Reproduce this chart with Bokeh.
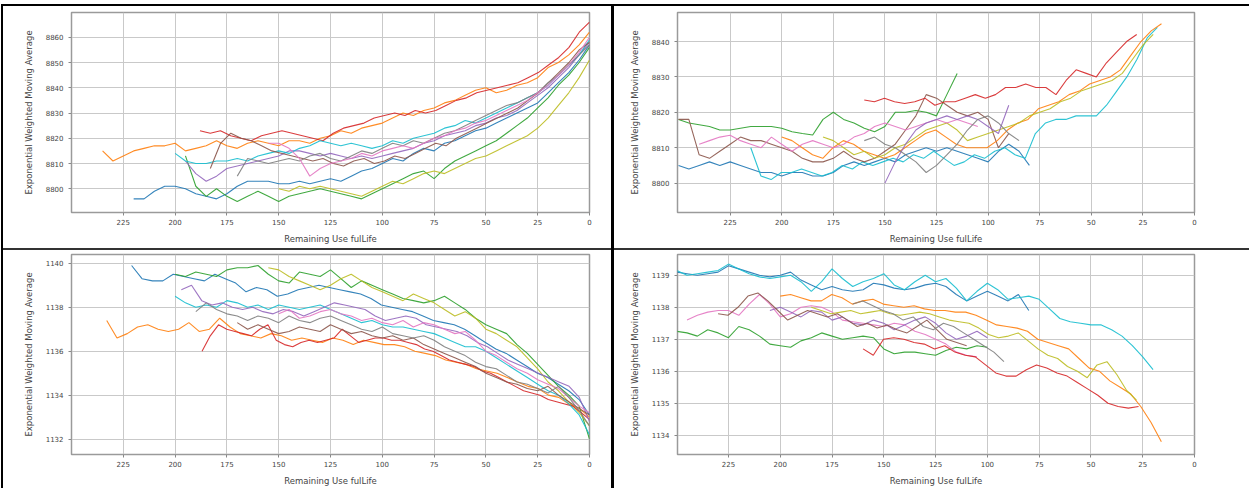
import numpy as np
from bokeh.plotting import figure
from bokeh.layouts import row, column
from bokeh.models import Range1d, FixedTicker, Div
from bokeh.embed import file_html
from bokeh.resources import INLINE

# ---------------- colours (matplotlib tab10) ----------------
BLUE, ORANGE, GREEN, RED, PURPLE = "#1f77b4", "#ff7f0e", "#2ca02c", "#d62728", "#9467bd"
BROWN, PINK, GRAY, OLIVE, CYAN = "#8c564b", "#e377c2", "#7f7f7f", "#bcbd22", "#17becf"

# ---------------- texts / ticks ----------------
x_label = "Remaining Use fulLife"
y_label = "Exponential Weighted Moving Average"
x_ticks = [0, 25, 50, 75, 100, 125, 150, 175, 200, 225]
tl_yticks = [8800, 8810, 8820, 8830, 8840, 8850, 8860]
tr_yticks = [8800, 8810, 8820, 8830, 8840]
bl_yticks = [1132, 1134, 1136, 1138, 1140]
br_yticks = [1134, 1135, 1136, 1137, 1138, 1139]

# ---------------- top-left panel data (RUL span, values) ----------------
tl_orange_span = (235, 0)
tl_orange = [8815, 8811, 8813, 8815, 8816, 8817, 8817, 8818, 8815, 8816, 8817, 8819, 8817, 8816, 8818, 8819,
             8818, 8817, 8819, 8819, 8818, 8820, 8821, 8823, 8822, 8824, 8825, 8826, 8828, 8830, 8829, 8831,
             8832, 8834, 8835, 8837, 8839, 8840, 8838, 8839, 8841, 8842, 8844, 8848, 8850, 8853, 8857, 8862]
tl_red_span = (188, 0)
tl_red = [8823, 8822, 8823, 8821, 8820, 8819, 8821, 8822, 8823, 8822, 8821, 8820, 8819, 8822, 8824, 8825,
          8826, 8828, 8829, 8830, 8829, 8831, 8830, 8831, 8833, 8835, 8836, 8838, 8839, 8840, 8841, 8842,
          8844, 8846, 8849, 8852, 8856, 8862, 8866]
tl_blue_span = (220, 0)
tl_blue = [8796, 8796, 8799, 8801, 8801, 8800, 8798, 8797, 8796, 8798, 8801, 8803, 8803, 8803, 8802, 8802,
           8803, 8802, 8803, 8804, 8803, 8805, 8807, 8808, 8810, 8812, 8811, 8814, 8816, 8815, 8818, 8819,
           8821, 8823, 8824, 8826, 8828, 8830, 8832, 8834, 8838, 8842, 8846, 8851, 8857]
tl_green_span = (195, 0)
tl_green = [8813, 8801, 8797, 8800, 8797, 8795, 8797, 8799, 8797, 8795, 8797, 8798, 8799, 8800, 8799, 8798,
            8797, 8796, 8798, 8800, 8802, 8804, 8806, 8807, 8804, 8808, 8811, 8813, 8815, 8817, 8819, 8822,
            8825, 8828, 8832, 8836, 8841, 8845, 8850, 8856]
tl_olive_span = (150, 0)
tl_olive = [8800, 8799, 8801, 8800, 8801, 8800, 8799, 8798, 8797, 8799, 8801, 8803, 8802, 8804, 8806, 8807,
            8806, 8808, 8810, 8812, 8813, 8815, 8817, 8819, 8821, 8824, 8828, 8833, 8838, 8844, 8851]
tl_purple_span = (195, 0)
tl_purple = [8811, 8806, 8803, 8805, 8808, 8809, 8810, 8811, 8812, 8813, 8815, 8815, 8814, 8813, 8814, 8813,
             8812, 8813, 8812, 8813, 8814, 8815, 8816, 8818, 8819, 8821, 8822, 8823, 8825, 8826, 8828, 8829,
             8831, 8834, 8837, 8840, 8844, 8848, 8853, 8858]
tl_cyan_span = (200, 0)
tl_cyan = [8814, 8811, 8810, 8810, 8811, 8811, 8812, 8811, 8813, 8814, 8815, 8814, 8816, 8817, 8819, 8818,
           8817, 8818, 8817, 8816, 8817, 8819, 8818, 8820, 8821, 8822, 8824, 8825, 8827, 8826, 8828, 8830,
           8832, 8834, 8836, 8838, 8841, 8845, 8849, 8853, 8859]
tl_brown_span = (183, 0)
tl_brown = [8808, 8818, 8822, 8820, 8819, 8817, 8815, 8814, 8813, 8812, 8811, 8812, 8810, 8809, 8811, 8812,
            8810, 8811, 8813, 8812, 8814, 8816, 8818, 8817, 8820, 8822, 8824, 8826, 8828, 8830, 8832, 8835,
            8838, 8842, 8846, 8850, 8855, 8858]
tl_gray_span = (170, 0)
tl_gray = [8805, 8812, 8811, 8810, 8811, 8812, 8811, 8813, 8814, 8812, 8811, 8813, 8815, 8814, 8816, 8818,
           8817, 8819, 8818, 8820, 8822, 8823, 8825, 8827, 8829, 8831, 8833, 8834, 8836, 8838, 8842, 8845,
           8849, 8853, 8857]
tl_pink_span = (155, 0)
tl_pink = [8818, 8818, 8816, 8812, 8805, 8808, 8810, 8811, 8812, 8814, 8813, 8815, 8816, 8817, 8816, 8818,
           8820, 8821, 8823, 8824, 8826, 8827, 8829, 8831, 8833, 8835, 8838, 8841, 8845, 8849, 8854, 8860]

# ---------------- top-right panel data ----------------
tr_blue_span = (250, 80)
tr_blue = [8805, 8804, 8805, 8806, 8805, 8806, 8805, 8804, 8803, 8803, 8802, 8803, 8803, 8802, 8802, 8803,
           8805, 8806, 8805, 8806, 8807, 8806, 8808, 8809, 8810, 8809, 8810, 8809, 8808, 8807, 8806, 8809,
           8811, 8809, 8805]
tr_cyan_span = (215, 18)
tr_cyan = [8810, 8802, 8801, 8803, 8803, 8804, 8803, 8802, 8803, 8805, 8804, 8806, 8805, 8806, 8807, 8806,
           8808, 8807, 8809, 8807, 8805, 8806, 8808, 8807, 8809, 8810, 8808, 8807, 8814, 8817, 8818, 8818,
           8819, 8819, 8819, 8822, 8826, 8830, 8835, 8841, 8844]
tr_green_span = (250, 115)
tr_green = [8818, 8817, 8816.5, 8816, 8815, 8815, 8815.5, 8816, 8816, 8816, 8815.5, 8814.5, 8814, 8813.6,
            8818, 8820, 8818, 8817, 8815.5, 8814.5, 8816, 8820, 8820, 8820.5, 8820, 8819, 8825, 8831]
tr_brown_span = (250, 90)
tr_brown = [8818, 8818, 8808, 8807, 8809, 8811, 8813, 8812, 8812, 8811, 8810, 8809, 8807, 8806, 8806, 8807,
            8809, 8807, 8806, 8807, 8809, 8811, 8815, 8819, 8825, 8824, 8822, 8820, 8819, 8820, 8818, 8810,
            8814]
tr_red_span = (160, 28)
tr_red = [8823.5, 8823, 8824, 8823, 8822.5, 8823, 8824, 8822, 8823, 8823, 8824, 8825, 8824, 8825, 8827,
          8827, 8828, 8827, 8827, 8825, 8829, 8832, 8831, 8830, 8834, 8837, 8840, 8842]
tr_orange_span = (200, 16)
tr_orange = [8813, 8812, 8810, 8808, 8807, 8810, 8812, 8811, 8809, 8808, 8807, 8808, 8810, 8812, 8814, 8815,
             8813, 8811, 8810, 8810, 8810, 8812, 8815, 8817, 8818, 8821, 8822, 8823, 8825, 8826, 8828, 8829,
             8830, 8832, 8836, 8840, 8843, 8845]
tr_olive_span = (180, 20)
tr_olive = [8813, 8812, 8810, 8808, 8809, 8807, 8808, 8810, 8811, 8813, 8815, 8816, 8817, 8815, 8812, 8813,
            8814, 8815, 8816, 8817, 8819, 8820, 8821, 8823, 8824, 8826, 8827, 8828, 8829, 8831, 8835, 8839,
            8842]
tr_pink_span = (240, 105)
tr_pink = [8811, 8812, 8813, 8813.5, 8812, 8811, 8810, 8813, 8811, 8809, 8811, 8812, 8811, 8810, 8811, 8813,
           8814, 8816, 8817, 8816, 8815, 8816, 8817, 8818, 8817, 8818, 8817, 8816]
tr_purple_span = (150, 90)
tr_purple = [8800, 8806, 8811, 8815, 8817, 8818, 8819, 8818, 8819, 8818, 8816, 8814, 8822]
tr_gray_span = (160, 85)
tr_gray = [8812, 8813, 8811, 8810, 8808, 8806, 8803, 8805, 8808, 8811, 8815, 8818, 8819, 8817, 8814, 8812]

# ---------------- bottom-left panel data ----------------
bl_blue_span = (221, 0)
bl_blue = [1139.9, 1139.3, 1139.2, 1139.2, 1139.5, 1139.4, 1139.3, 1139.2, 1139.5, 1139.3, 1139.1, 1138.7,
           1138.9, 1138.8, 1138.5, 1138.6, 1138.8, 1138.9, 1139.0, 1138.9, 1138.8, 1138.7, 1138.6, 1138.4,
           1138.1, 1138.0, 1137.9, 1137.8, 1137.6, 1137.4, 1137.3, 1137.2, 1137.0, 1136.7, 1136.4, 1136.1,
           1135.9, 1135.6, 1135.3, 1135.0, 1134.8, 1134.5, 1134.2, 1133.8, 1133.1]
bl_green_span = (200, 0)
bl_green = [1139.5, 1139.4, 1139.6, 1139.5, 1139.4, 1139.7, 1139.8, 1139.8, 1139.9, 1139.5, 1139.2, 1139.1,
            1139.6, 1139.5, 1139.4, 1139.7, 1139.3, 1138.9, 1139.2, 1139.0, 1138.8, 1138.6, 1138.4, 1138.3,
            1138.2, 1138.3, 1138.5, 1138.2, 1137.9, 1137.5, 1137.2, 1137.0, 1136.8, 1136.3, 1135.9, 1135.4,
            1134.9, 1134.4, 1134.0, 1133.5, 1132.0]
bl_olive_span = (155, 0)
bl_olive = [1139.8, 1139.7, 1139.4, 1139.2, 1139.0, 1138.8, 1139.0, 1139.3, 1139.5, 1139.2, 1138.9, 1138.7,
            1138.5, 1138.3, 1138.6, 1138.4, 1138.2, 1137.9, 1137.6, 1137.8, 1137.5, 1137.0, 1136.8, 1136.5,
            1136.2, 1135.7, 1135.2, 1134.6, 1134.2, 1133.7, 1133.2, 1132.6]
bl_orange_span = (233, 0)
bl_orange = [1137.4, 1136.6, 1136.8, 1137.1, 1137.2, 1137.0, 1136.9, 1137.0, 1137.3, 1136.9, 1137.0, 1137.5,
             1137.1, 1136.8, 1136.7, 1136.6, 1136.8, 1136.7, 1136.5, 1136.6, 1136.5, 1136.4, 1136.6, 1136.5,
             1136.3, 1136.5, 1136.4, 1136.3, 1136.3, 1136.2, 1136.0, 1135.9, 1135.8, 1135.6, 1135.5, 1135.4,
             1135.2, 1135.1, 1135.0, 1134.8, 1134.6, 1134.4, 1134.3, 1134.0, 1133.9, 1133.6, 1133.4, 1133.0]
bl_red_span = (187, 0)
bl_red = [1136.0, 1136.7, 1137.2, 1137.0, 1136.9, 1136.8, 1136.7, 1137.0, 1137.2, 1136.5, 1136.3, 1136.2,
          1136.4, 1136.5, 1136.4, 1136.5, 1136.6, 1137.0, 1136.7, 1136.4, 1136.5, 1136.6, 1136.6, 1136.5,
          1136.5, 1136.4, 1136.3, 1136.1, 1136.0, 1135.8, 1135.6, 1135.5, 1135.4, 1135.3, 1135.1, 1135.0,
          1134.8, 1134.6, 1134.4, 1134.2, 1134.1, 1134.0, 1133.8, 1133.7, 1133.6, 1133.5, 1133.2, 1132.9]
bl_cyan_span = (200, 0)
bl_cyan = [1138.5, 1138.2, 1138.0, 1138.1, 1138.0, 1138.3, 1138.2, 1138.0, 1138.1, 1137.9, 1138.1, 1138.0,
           1137.9, 1138.0, 1138.1, 1137.9, 1137.7, 1137.5, 1137.3, 1137.4, 1137.2, 1137.1, 1137.1, 1137.0,
           1136.9, 1136.8, 1136.6, 1136.4, 1136.2, 1136.2, 1136.0, 1135.7, 1135.4, 1135.1, 1134.8, 1134.5,
           1134.2, 1134.0, 1133.6, 1133.1, 1132.2]
bl_purple_span = (197, 0)
bl_purple = [1138.8, 1139.0, 1138.3, 1138.1, 1138.2, 1138.0, 1137.9, 1138.0, 1137.8, 1137.7, 1137.9, 1137.8,
             1137.6, 1137.8, 1138.0, 1138.2, 1138.1, 1138.0, 1137.9, 1137.6, 1137.4, 1137.5, 1137.6, 1137.5,
             1137.2, 1137.1, 1137.0, 1136.9, 1136.7, 1136.4, 1136.2, 1135.9, 1135.6, 1135.4, 1135.2, 1135.0,
             1134.8, 1134.6, 1134.4, 1133.9, 1132.8]
bl_brown_span = (170, 0)
bl_brown = [1137.3, 1137.0, 1137.2, 1137.0, 1136.8, 1136.9, 1137.1, 1137.0, 1136.9, 1137.2, 1137.0, 1136.8,
            1136.9, 1136.7, 1136.6, 1136.7, 1136.5, 1136.6, 1136.3, 1136.1, 1135.9, 1135.7, 1135.5, 1135.3,
            1135.0, 1134.8, 1134.6, 1134.5, 1134.3, 1134.2, 1134.4, 1134.0, 1133.7, 1133.4, 1133.1]
bl_pink_span = (150, 0)
bl_pink = [1137.7, 1137.9, 1137.5, 1137.6, 1137.8, 1137.9, 1137.7, 1137.6, 1137.4, 1137.5, 1137.3, 1137.2,
           1137.4, 1137.1, 1137.3, 1137.2, 1137.0, 1136.8, 1136.9, 1136.5, 1136.0, 1135.8, 1135.5, 1135.2,
           1135.0, 1134.7, 1134.5, 1134.3, 1133.9, 1133.5, 1133.2]
bl_gray_span = (190, 0)
bl_gray = [1137.8, 1138.2, 1137.9, 1137.7, 1137.6, 1137.4, 1137.6, 1137.5, 1137.3, 1137.6, 1137.4, 1137.3,
           1137.5, 1137.6, 1137.4, 1137.2, 1137.0, 1136.9, 1137.1, 1136.8, 1136.7, 1136.6, 1136.7, 1136.5,
           1136.2, 1136.0, 1135.8, 1135.5, 1135.3, 1135.2, 1134.9, 1134.6, 1134.5, 1134.3, 1134.1, 1134.4,
           1133.9, 1133.3, 1132.6]

# ---------------- bottom-right panel data ----------------
br_blue_span = (250, 80)
br_blue = [1139.1, 1139.05, 1139.0, 1139.05, 1139.1, 1139.3, 1139.2, 1139.1, 1139.0, 1138.95, 1139.0, 1139.1,
           1138.85, 1138.7, 1138.55, 1138.65, 1138.55, 1138.5, 1138.55, 1138.75, 1138.7, 1138.6, 1138.55,
           1138.6, 1138.7, 1138.75, 1138.65, 1138.4, 1138.2, 1138.35, 1138.5, 1138.35, 1138.2, 1138.4, 1137.9]
br_cyan_span = (250, 20)
br_cyan = [1139.15, 1139.0, 1139.05, 1139.1, 1139.15, 1139.35, 1139.2, 1139.05, 1138.95, 1138.9, 1138.95,
           1139.0, 1138.8, 1138.5, 1138.8, 1139.2, 1138.9, 1138.65, 1138.8, 1138.9, 1139.05, 1138.7, 1138.55,
           1138.8, 1139.0, 1138.8, 1138.9, 1138.6, 1138.2, 1138.5, 1138.75, 1138.55, 1138.25, 1138.3, 1138.35,
           1138.25, 1137.95, 1137.65, 1137.55, 1137.5, 1137.45, 1137.45, 1137.3, 1137.1, 1136.8, 1136.45,
           1136.05]
br_green_span = (250, 100)
br_green = [1137.25, 1137.2, 1137.1, 1137.3, 1137.2, 1137.05, 1137.4, 1137.3, 1137.1, 1136.85, 1136.8,
            1136.75, 1136.95, 1137.05, 1137.2, 1137.1, 1137.0, 1137.05, 1137.1, 1137.05, 1136.7, 1136.55,
            1136.6, 1136.6, 1136.55, 1136.5, 1136.65, 1136.75, 1136.7, 1136.8, 1136.75]
br_pink_span = (245, 105)
br_pink = [1137.6, 1137.75, 1137.85, 1137.9, 1137.9, 1137.75, 1138.1, 1138.4, 1138.1, 1137.7, 1137.8, 1138.0,
           1138.05, 1138.0, 1137.85, 1137.6, 1137.55, 1137.5, 1137.45, 1137.4, 1137.5, 1137.45, 1137.25,
           1137.15, 1137.0, 1136.85, 1136.6, 1136.5, 1136.45]
br_red_span = (160, 27)
br_red = [1136.7, 1136.5, 1137.0, 1137.05, 1137.0, 1136.9, 1136.85, 1136.7, 1136.8, 1136.6, 1136.5, 1136.45,
          1136.2, 1135.95, 1135.85, 1135.85, 1136.05, 1136.2, 1136.1, 1135.95, 1135.85, 1135.65, 1135.45,
          1135.25, 1135.0, 1134.9, 1134.85, 1134.9]
br_orange_span = (200, 16)
br_orange = [1138.35, 1138.4, 1138.3, 1138.2, 1138.2, 1138.4, 1138.3, 1138.1, 1138.2, 1138.25, 1138.1,
             1138.05, 1138.0, 1138.05, 1137.95, 1137.9, 1137.9, 1137.85, 1137.85, 1137.75, 1137.6, 1137.45,
             1137.4, 1137.35, 1137.25, 1137.0, 1136.9, 1136.8, 1136.7, 1136.4, 1136.1, 1136.0, 1135.7, 1135.5,
             1135.3, 1134.9, 1134.4, 1133.8]
br_olive_span = (185, 28)
br_olive = [1138.0, 1137.9, 1137.8, 1137.85, 1137.9, 1137.8, 1137.85, 1137.9, 1137.8, 1137.75, 1137.8,
            1137.85, 1137.8, 1137.7, 1137.6, 1137.55, 1137.5, 1137.35, 1137.15, 1137.05, 1137.1, 1137.2,
            1136.95, 1136.7, 1136.5, 1136.4, 1136.15, 1136.0, 1135.8, 1136.2, 1136.3, 1135.9, 1135.4, 1135.1]
br_purple_span = (205, 100)
br_purple = [1137.9, 1138.0, 1137.85, 1137.7, 1137.9, 1137.85, 1137.6, 1137.7, 1137.5, 1137.45, 1137.6,
             1137.5, 1137.3, 1137.45, 1137.6, 1137.7, 1137.5, 1137.2, 1137.0, 1137.1, 1137.25, 1137.05]
br_brown_span = (230, 110)
br_brown = [1137.8, 1137.75, 1138.0, 1138.35, 1138.45, 1138.2, 1137.9, 1137.6, 1137.75, 1137.9, 1137.8,
            1137.7, 1137.8, 1137.6, 1137.4, 1137.5, 1137.35, 1137.45, 1137.3, 1137.2, 1137.4, 1137.6, 1137.3,
            1137.0, 1136.9, 1136.8]
br_gray_span = (165, 92)
br_gray = [1138.1, 1138.2, 1138.05, 1137.9, 1137.8, 1137.6, 1137.7, 1137.4, 1137.3, 1137.5, 1137.4, 1137.2,
           1137.0, 1136.8, 1136.6, 1136.3]

TL = [(tl_orange_span, tl_orange, ORANGE), (tl_red_span, tl_red, RED), (tl_blue_span, tl_blue, BLUE),
      (tl_green_span, tl_green, GREEN), (tl_olive_span, tl_olive, OLIVE), (tl_purple_span, tl_purple, PURPLE),
      (tl_cyan_span, tl_cyan, CYAN), (tl_brown_span, tl_brown, BROWN), (tl_gray_span, tl_gray, GRAY),
      (tl_pink_span, tl_pink, PINK)]
TR = [(tr_blue_span, tr_blue, BLUE), (tr_cyan_span, tr_cyan, CYAN), (tr_green_span, tr_green, GREEN),
      (tr_brown_span, tr_brown, BROWN), (tr_red_span, tr_red, RED), (tr_orange_span, tr_orange, ORANGE),
      (tr_olive_span, tr_olive, OLIVE), (tr_pink_span, tr_pink, PINK), (tr_purple_span, tr_purple, PURPLE),
      (tr_gray_span, tr_gray, GRAY)]
BL = [(bl_blue_span, bl_blue, BLUE), (bl_green_span, bl_green, GREEN), (bl_olive_span, bl_olive, OLIVE),
      (bl_orange_span, bl_orange, ORANGE), (bl_red_span, bl_red, RED), (bl_cyan_span, bl_cyan, CYAN),
      (bl_purple_span, bl_purple, PURPLE), (bl_brown_span, bl_brown, BROWN), (bl_pink_span, bl_pink, PINK),
      (bl_gray_span, bl_gray, GRAY)]
BR = [(br_blue_span, br_blue, BLUE), (br_cyan_span, br_cyan, CYAN), (br_green_span, br_green, GREEN),
      (br_pink_span, br_pink, PINK), (br_red_span, br_red, RED), (br_orange_span, br_orange, ORANGE),
      (br_olive_span, br_olive, OLIVE), (br_purple_span, br_purple, PURPLE), (br_brown_span, br_brown, BROWN),
      (br_gray_span, br_gray, GRAY)]

FONT = "DejaVu Sans"


def panel(series, xr, yr, yticks, w, h, bl, br_, bt, bb):
    p = figure(width=w, height=h, output_backend="svg", toolbar_location=None,
               x_range=Range1d(*xr), y_range=Range1d(*yr), margin=0,
               min_border_left=bl, min_border_right=br_, min_border_top=bt, min_border_bottom=bb)
    p.background_fill_color = "white"
    p.border_fill_color = "white"
    p.outline_line_color = "#9a9a9a"
    p.outline_line_width = 1.5
    for (s, e), vals, col in series:
        xs = np.linspace(s, e, len(vals))
        p.line(xs, vals, line_color=col, line_width=1.1, line_alpha=0.9)
    p.xaxis.ticker = FixedTicker(ticks=x_ticks)
    p.yaxis.ticker = FixedTicker(ticks=yticks)
    p.xgrid.ticker = FixedTicker(ticks=x_ticks)
    p.ygrid.ticker = FixedTicker(ticks=yticks)
    for g in (p.xgrid, p.ygrid):
        g.grid_line_color = "#c9c9c9"
        g.grid_line_width = 1
    for ax in (p.xaxis, p.yaxis):
        ax.axis_line_color = None
        ax.major_tick_line_color = "#888888"
        ax.major_tick_out = 3
        ax.major_tick_in = 0
        ax.minor_tick_line_color = None
        ax.major_label_text_font = FONT
        ax.major_label_text_font_size = "7px"
        ax.major_label_text_color = "#444444"
        ax.axis_label_text_font = FONT
        ax.axis_label_text_font_size = "8.5px"
        ax.axis_label_text_font_style = "normal"
        ax.axis_label_text_color = "#444444"
    p.xaxis.axis_label = x_label
    p.yaxis.axis_label = y_label
    p.xaxis.major_label_standoff = 3
    p.xaxis.axis_label_standoff = 6
    p.yaxis.major_label_standoff = 5
    p.yaxis.axis_label_standoff = 9
    return p


def bar(w, h, color):
    return Div(width=w, height=h, margin=0, styles={"background-color": color})


tl = panel(TL, (250, 0), (8790.6, 8869.8), tl_yticks, 608, 242, 68, 22, 6, 36)
tr = panel(TR, (250.5, 0), (8791.7, 8848.2), tr_yticks, 635, 242, 60, 55, 6, 36)
bl = panel(BL, (250, 0), (1131.3, 1140.4), bl_yticks, 608, 238, 68, 21, 4, 33)
br = panel(BR, (249.6, 0), (1133.4, 1139.65), br_yticks, 635, 238, 63, 53, 4, 32)

left_col = column(tl, bar(608, 2, "#333333"), bl, spacing=0, margin=0)
right_col = column(tr, bar(635, 2, "#333333"), br, spacing=0, margin=0)
body = row(bar(1, 482, "#ffffff"), bar(2, 482, "#000000"), left_col, bar(3, 482, "#000000"), right_col,
           spacing=0, margin=0)
top = row(bar(1, 2, "#ffffff"), bar(1248, 2, "#000000"), spacing=0, margin=0)
layout = column(bar(1249, 4, "#ffffff"), top, body, spacing=0, margin=0)

open("out.html", "w").write(file_html(layout, INLINE))
